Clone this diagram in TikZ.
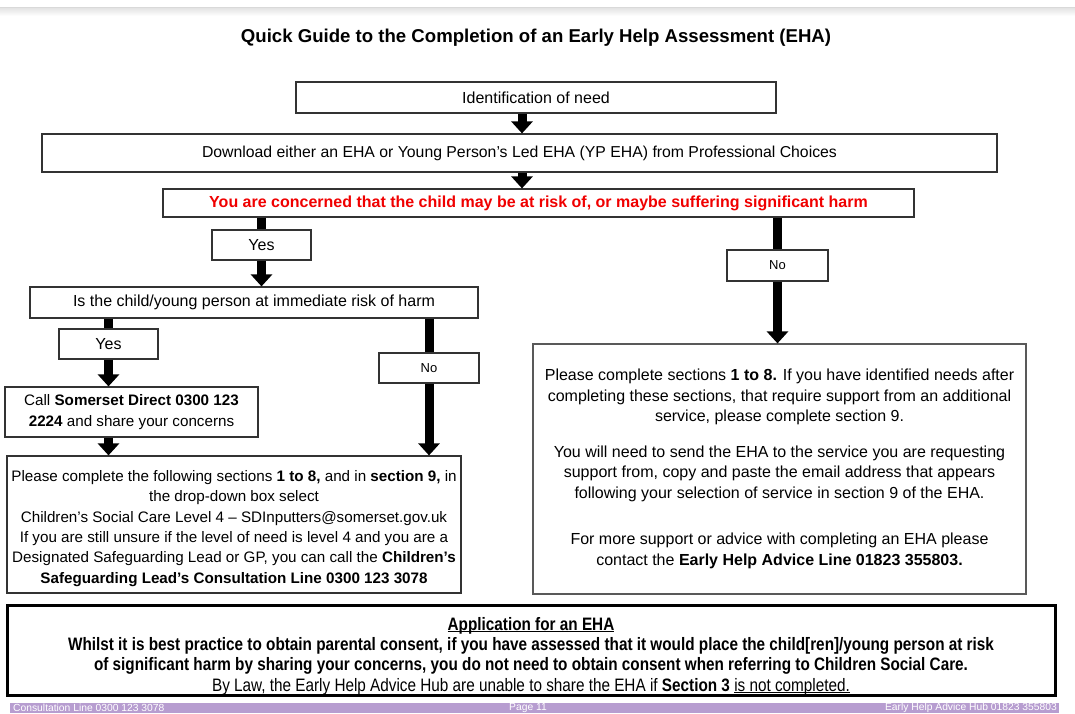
\documentclass[tikz,border=0pt]{standalone}
\usepackage{fontspec}
\setmainfont{Liberation Sans}
\newfontfamily\narrowfont[FakeStretch=0.85]{Liberation Sans}
\usetikzlibrary{arrows.meta}
\definecolor{footpurple}{RGB}{183,157,208}
\definecolor{alertred}{RGB}{240,0,0}
\newcommand\underword[1]{\underline{\smash{#1}}}

\begin{document}
\begin{tikzpicture}[x=1pt, y=-1pt,
  box/.style={draw=black!80, line width=1.2pt, fill=white, inner sep=0pt, align=center,
    font=\fontsize{16}{20.5}\selectfont},
  smallbox/.style={box, font=\fontsize{13}{15}\selectfont},
  textbox/.style={box, font=\fontsize{15.2}{20.3}\selectfont},
  bar/.style={line width=9pt},
  bigarrow/.style={bar, -{Triangle[width=21pt, length=12pt]}},
  foot/.style={text=white, inner sep=0pt, font=\fontsize{10.3}{11}\selectfont}]
  \useasboundingbox (0,0) rectangle (1075,713);
  \shade[top color=black!12, bottom color=white] (0,7) rectangle (1075,16);
  \draw[black!15] (0,7) -- (1075,7);
  \node[font=\bfseries\fontsize{18.6}{22}\selectfont] (title) at (536,38)
    {Quick Guide to the Completion of an Early Help Assessment (EHA)};
  % top of the flow
  \node[box, minimum width=480pt, minimum height=31pt] (ident) at (536,97.5) {Identification of need};
  \node[box, minimum width=955pt, minimum height=38pt, font=\fontsize{15.8}{20}\selectfont] (download) at (519.5,153)
    {Download either an EHA or Young Person’s Led EHA (YP EHA) from Professional Choices};
  \node[box, minimum width=751pt, minimum height=28pt, text=alertred,
    font=\bfseries\fontsize{16}{20}\selectfont] (concern) at (538.5,203)
    {You are concerned that the child may be at risk of, or maybe suffering significant harm};
  \node[box, minimum width=99pt, minimum height=30pt] (yesA) at (261.5,245) {Yes};
  \node[smallbox, minimum width=101pt, minimum height=31pt] (noA) at (777.5,265.5) {No};
  \node[box, minimum width=448pt, minimum height=31pt] (risk) at (254,302.5)
    {Is the child/young person at immediate risk of harm};
  \node[box, minimum width=99pt, minimum height=30pt] (yesB) at (108.5,344) {Yes};
  \node[smallbox, minimum width=100pt, minimum height=30pt] (noB) at (429,368) {No};
  \node[textbox, minimum width=253pt, minimum height=50pt] (call) at (131.5,412)
    {Call \textbf{Somerset Direct 0300 123}\\\textbf{2224} and share your concerns};
  \node[textbox, minimum width=454pt, minimum height=137pt] (level4) at (234,524.5)
    {\rule{0pt}{19pt}Please complete the following sections \textbf{1 to 8,} and in \textbf{section 9,} in\\
     the drop-down box select\\
     Children’s Social Care Level 4 – SDInputters@somerset.gov.uk\\
     If you are still unsure if the level of need is level 4 and you are a\\
     Designated Safeguarding Lead or GP, you can call the \textbf{Children’s}\\
     \textbf{Safeguarding Lead’s Consultation Line 0300 123 3078}};
  \node[box, draw=black!65, minimum width=493pt, minimum height=250pt] (sections) at (779.5,469)
    {Please complete sections \textbf{1 to 8.} If you have identified needs after\\
     completing these sections, that require support from an additional\\
     service, please complete section 9.\\[15pt]
     You will need to send the EHA to the service you are requesting\\
     support from, copy and paste the email address that appears\\
     following your selection of service in section 9 of the EHA.\\[26pt]
     For more support or advice with completing an EHA please\\
     contact the \textbf{Early Help Advice Line 01823 355803.}};
  % consent note at the foot
  \node[box, draw=black, line width=3pt, minimum width=1048pt, minimum height=90pt] (consent) at (531,650) {};
  \node[align=center, inner sep=0pt, font=\narrowfont\fontsize{18}{20.3}\selectfont]
    (consenttext) at ([yshift=-12.5pt]consent.center)
    {\textbf{\underword{Application for an EHA}}\\
     \textbf{Whilst it is best practice to obtain parental consent, if you have assessed that it would place the child[ren]/young person at risk}\\
     \textbf{of significant harm by sharing your concerns, you do not need to obtain consent when referring to Children Social Care.}\\
     By Law, the Early Help Advice Hub are unable to share the EHA if \textbf{Section 3} \underword{is not completed.}};
  % connectors
  \coordinate (spine) at (522,0);
  \draw[bigarrow] (ident.south -| spine) -- (download.north -| spine);
  \draw[bigarrow] (download.south -| spine) -- (concern.north -| spine);
  \draw[bar] (yesA.north |- concern.south) -- (yesA.north);
  \draw[bigarrow] (yesA.south) -- (yesA.south |- risk.north);
  \draw[bar] (noA.north |- concern.south) -- (noA.north);
  \draw[bigarrow] (noA.south) -- (noA.south |- sections.north);
  \draw[bar] (yesB.north |- risk.south) -- (yesB.north);
  \draw[bigarrow] (yesB.south) -- (yesB.south |- call.north);
  \draw[bigarrow] (call.south -| yesB) -- (level4.north -| yesB);
  \draw[bar] (noB.north |- risk.south) -- (noB.north);
  \draw[bigarrow] (noB.south) -- (noB.south |- level4.north);
  % page footer
  \fill[footpurple] (10,703) rectangle (1059,713);
  \node[foot, anchor=west] (footl) at (13,707.8) {Consultation Line 0300 123 3078};
  \node[foot] (footc) at (528,707.8) {Page 11};
  \node[foot, anchor=east] (footr) at (1057,707.8) {Early Help Advice Hub 01823 355803};
\end{tikzpicture}
\end{document}
